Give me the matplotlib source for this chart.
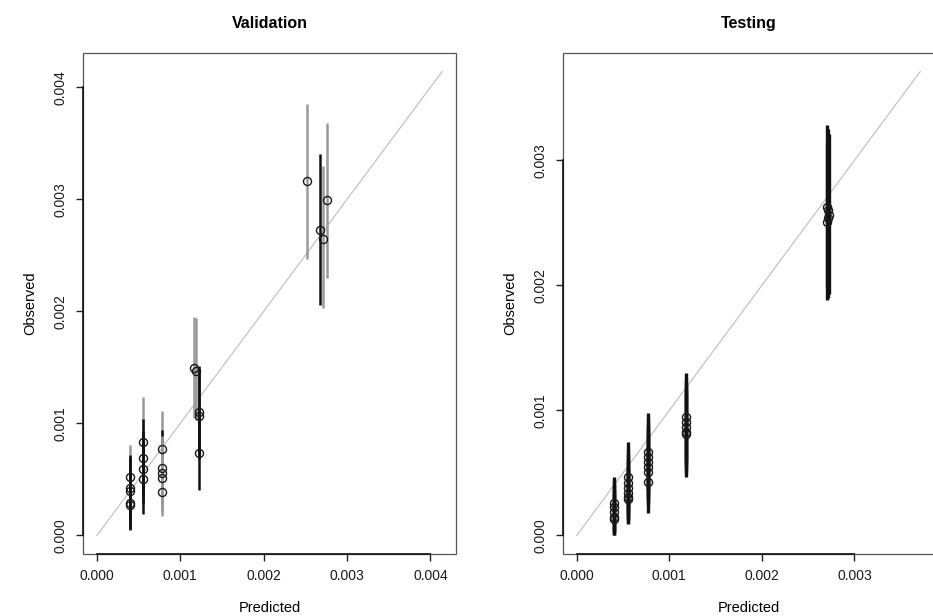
import matplotlib
matplotlib.use("Agg")
import matplotlib.pyplot as plt
from matplotlib.patches import Rectangle

plt.rcParams['font.family'] = ['Liberation Sans', 'DejaVu Sans']

# ---------------- data ----------------
# Validation panel
val_pred = [0.00040, 0.00040, 0.00040, 0.00040, 0.00040,
            0.00055, 0.00055, 0.00055, 0.00055,
            0.00078, 0.00078, 0.00078, 0.00078, 0.00078,
            0.00117, 0.00119, 0.00122, 0.00123, 0.00122,
            0.00252, 0.00268, 0.00271, 0.00276]
val_obs = [0.00052, 0.00042, 0.00040, 0.00029, 0.00027,
           0.00083, 0.00069, 0.00059, 0.00050,
           0.00077, 0.00060, 0.00056, 0.00051, 0.00039,
           0.00149, 0.00147, 0.00110, 0.00107, 0.00074,
           0.00316, 0.00273, 0.00265, 0.00299]
val_lo = [0.00022, 0.00014, 0.00012, 0.00006, 0.00005,
          0.00046, 0.00036, 0.00028, 0.00019,
          0.00040, 0.00029, 0.00025, 0.00022, 0.00017,
          0.00105, 0.00103, 0.00070, 0.00068, 0.00041,
          0.00247, 0.00206, 0.00203, 0.00230]
val_hi = [0.00081, 0.00072, 0.00070, 0.00057, 0.00055,
          0.00124, 0.00104, 0.00093, 0.00083,
          0.00111, 0.00094, 0.00089, 0.00083, 0.00068,
          0.00195, 0.00194, 0.00151, 0.00148, 0.00112,
          0.00385, 0.00340, 0.00330, 0.00368]
val_kind = [1, 0, 0, 0, 0,
            1, 0, 0, 0,
            1, 0, 1, 1, 1,
            1, 1, 0, 0, 0,
            1, 0, 1, 1]
val_diag_max = 0.00414

# Testing panel
test_pred = [0.00040, 0.00040, 0.00040, 0.00040, 0.00040,
             0.000556, 0.000556, 0.000556, 0.000556, 0.000556, 0.000556,
             0.00077, 0.00077, 0.00077, 0.00077, 0.00077, 0.00077,
             0.00118, 0.00118, 0.00118, 0.00118, 0.00118,
             0.00270, 0.00271, 0.00272, 0.00271, 0.00270]
test_obs = [0.00026, 0.00023, 0.00019, 0.00015, 0.00013,
            0.00047, 0.00042, 0.00038, 0.00034, 0.00031, 0.00029,
            0.00067, 0.00063, 0.00059, 0.00055, 0.00051, 0.00043,
            0.00095, 0.00091, 0.00087, 0.00083, 0.00081,
            0.00263, 0.00260, 0.00256, 0.00254, 0.00251]
test_lo = [0.00004, 0.00003, 0.00001, 0.00000, 0.00000,
           0.00021, 0.00017, 0.00014, 0.00012, 0.00010, 0.00009,
           0.00036, 0.00033, 0.00030, 0.00027, 0.00024, 0.00018,
           0.00060, 0.00057, 0.00053, 0.00050, 0.00047,
           0.00199, 0.00196, 0.00193, 0.00190, 0.00188]
test_hi = [0.00047, 0.00044, 0.00040, 0.00036, 0.00033,
           0.00075, 0.00069, 0.00064, 0.00060, 0.00055, 0.00052,
           0.00098, 0.00094, 0.00089, 0.00085, 0.00080, 0.00071,
           0.00130, 0.00126, 0.00122, 0.00117, 0.00114,
           0.00328, 0.00325, 0.00321, 0.00318, 0.00315]
test_kind = [0] * len(test_pred)
test_diag_max = 0.00371

val_ticks = [0.000, 0.001, 0.002, 0.003, 0.004]
test_ticks = [0.000, 0.001, 0.002, 0.003]
titles = ["Validation", "Testing"]

# ---------------- drawing ----------------
kind_colors = {0: "#111111", 1: "#9a9a9a"}

fig = plt.figure(figsize=(9.33, 6.16), dpi=100)
ax1 = fig.add_axes([0.089, 0.1006, 0.3997, 0.8134])
ax2 = fig.add_axes([0.6034, 0.1006, 0.3976, 0.8134])


def draw(ax, pred, obs, lo, hi, kind, dmax, ticks, title, bar_lw):
    pad = dmax * 0.04
    ax.plot([0, dmax], [0, dmax], color="#c4c4c4", lw=0.9, zorder=1)
    cols = [kind_colors[k] for k in kind]
    ax.vlines(pred, lo, hi, colors=cols, lw=bar_lw, zorder=2)
    ax.plot(pred, obs, linestyle="none", marker="o", ms=5.8,
            mfc="none", mec="#1a1a1a", mew=1.0, zorder=3)
    ax.set_xlim(-pad, dmax + pad)
    ax.set_ylim(-pad, dmax + pad)
    ax.set_xticks(ticks)
    ax.set_yticks(ticks)
    ax.set_xticklabels([f"{t:.3f}" for t in ticks])
    ax.set_yticklabels([f"{t:.3f}" for t in ticks], rotation=90, va="center")
    ax.tick_params(direction="out", length=5, width=1.0, labelsize=10,
                   pad=6, color="#222222", labelcolor="#1a1a1a")
    for s in ["top", "right"]:
        ax.spines[s].set_visible(False)
    for s in ["left", "bottom"]:
        ax.spines[s].set_color("#111111")
        ax.spines[s].set_linewidth(1.2)
    ax.spines["left"].set_bounds(ticks[0], ticks[-1])
    ax.spines["bottom"].set_bounds(ticks[0], ticks[-1])
    ax.add_patch(Rectangle((0, 0), 1, 1, transform=ax.transAxes, fill=False,
                           edgecolor="#555555", lw=0.9, clip_on=False, zorder=0))
    ax.set_xlabel("Predicted", fontsize=10.5, labelpad=13)
    ax.set_ylabel("Observed", fontsize=10.5, labelpad=12)
    ax.set_title(title, fontsize=11.5, fontweight="bold", pad=18)


draw(ax1, val_pred, val_obs, val_lo, val_hi, val_kind, val_diag_max,
     val_ticks, titles[0], 1.8)
draw(ax2, test_pred, test_obs, test_lo, test_hi, test_kind, test_diag_max,
     test_ticks, titles[1], 2.4)

fig.savefig("out.png", dpi=100, facecolor="white")
